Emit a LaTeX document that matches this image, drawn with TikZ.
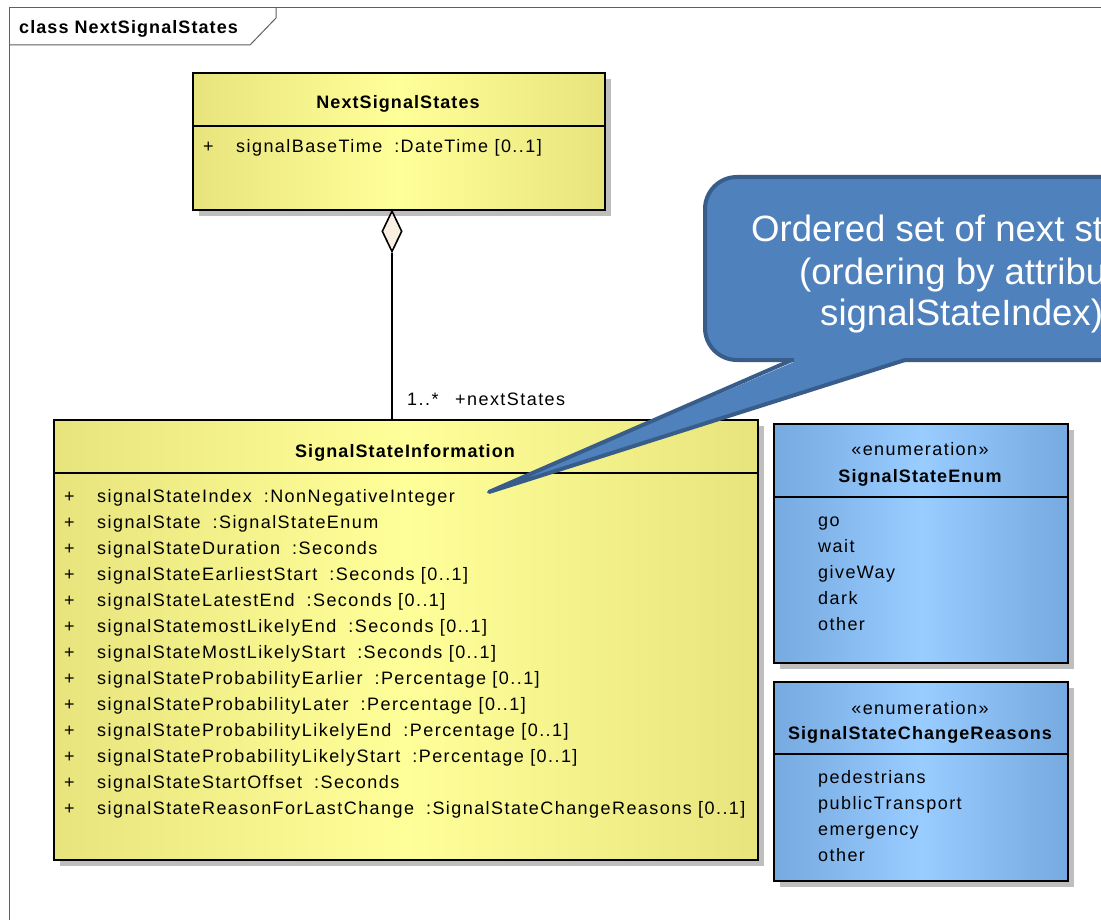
\documentclass[tikz,border=0pt]{standalone}
\usepackage{fontspec}
\setmainfont{Liberation Sans}
\newfontfamily\umlf[LetterSpace=8]{Liberation Sans}
\newfontfamily\umlbf[LetterSpace=6]{Liberation Sans Bold}
\usetikzlibrary{shapes.geometric,shadows}
\definecolor{yedge}{RGB}{232,228,125}
\definecolor{ymid}{RGB}{255,255,153}
\definecolor{bedge}{RGB}{118,170,224}
\definecolor{bmid}{RGB}{153,204,255}
\definecolor{shgray}{RGB}{190,190,190}
\definecolor{frameg}{RGB}{96,96,96}
\definecolor{callfill}{RGB}{79,129,189}
\definecolor{callline}{RGB}{56,93,138}
\definecolor{dfill}{RGB}{250,240,225}
\newcommand\utxt{\umlf\fontsize{18}{20}\selectfont}
\newcommand\ubf{\umlbf\fontsize{18}{20}\selectfont}
\newcommand\gp{\hspace{12pt}}
\begin{document}
\begin{tikzpicture}[x=1pt,y=-1pt,
  umlbox/.style={draw=black, line width=1.6pt, inner sep=0pt, anchor=north west,
    drop shadow={shadow xshift=6pt, shadow yshift=-6pt, fill=shgray, opacity=1}},
  ybox/.style={umlbox, left color=yedge, right color=yedge, middle color=ymid},
  bbox/.style={umlbox, left color=bedge, right color=bedge, middle color=bmid},
  lbl/.style={inner sep=0pt, anchor=base west, font=\utxt},
  ctr/.style={inner sep=0pt, anchor=base, font=\utxt},
  ttl/.style={inner sep=0pt, anchor=base, font=\ubf},
  divl/.style={line width=1.6pt},
  calltxt/.style={inner sep=0pt, anchor=base west, text=white, font=\fontsize{36.6}{42}\selectfont}]
\useasboundingbox (0,0) rectangle (1101,920);
\fill[white] (0,0) rectangle (1101,920);
% frame
\draw[frameg, line width=1pt] (9,930) -- (9,8) -- (1110,8);
\draw[frameg, line width=1pt] (9,45) -- (250,45) -- (276,18) -- (276,8);
\node[inner sep=0pt, anchor=base west, font=\ubf] (title) at (19,34) {class NextSignalStates};
% NextSignalStates
\node[ybox, minimum width=412pt, minimum height=137pt] (nss) at (192,72) {};
\draw[divl] (192,126) -- (604,126);
\node[ttl] (nsst) at (398,109) {NextSignalStates};
\node[lbl] (nsp) at (203,153) {+};
\node[lbl] (nsa) at (236,153) {signalBaseTime\gp:DateTime [0..1]};
% SignalStateInformation
\node[ybox, minimum width=704pt, minimum height=440pt] (ssi) at (53,419) {};
\draw[divl] (53,473) -- (757,473);
\node[ttl] (ssit) at (405,457) {SignalStateInformation};
\foreach \t [count=\i] in {
  {signalStateIndex\gp:NonNegativeInteger},
  {signalState\gp:SignalStateEnum},
  {signalStateDuration\gp:Seconds},
  {signalStateEarliestStart\gp:Seconds [0..1]},
  {signalStateLatestEnd\gp:Seconds [0..1]},
  {signalStatemostLikelyEnd\gp:Seconds [0..1]},
  {signalStateMostLikelyStart\gp:Seconds [0..1]},
  {signalStateProbabilityEarlier\gp:Percentage [0..1]},
  {signalStateProbabilityLater\gp:Percentage [0..1]},
  {signalStateProbabilityLikelyEnd\gp:Percentage [0..1]},
  {signalStateProbabilityLikelyStart\gp:Percentage [0..1]},
  {signalStateStartOffset\gp:Seconds},
  {signalStateReasonForLastChange\gp:SignalStateChangeReasons [0..1]}} {
  \node[lbl] (sp\i) at (64,476+26*\i) {+};
  \node[lbl] (sa\i) at (97,476+26*\i) {\t};
}
% SignalStateEnum
\node[bbox, minimum width=294pt, minimum height=239pt] (sse) at (773,423) {};
\draw[divl] (773,497) -- (1067,497);
\node[ctr] (sses) at (920,455) {«enumeration»};
\node[ttl] (sset) at (920,482) {SignalStateEnum};
\foreach \t [count=\i] in {go,wait,giveWay,dark,other} {
  \node[lbl] (se\i) at (818,500+26*\i) {\t};
}
% SignalStateChangeReasons
\node[bbox, minimum width=294pt, minimum height=199pt] (sscr) at (773,681) {};
\draw[divl] (773,754) -- (1067,754);
\node[ctr] (sscrs) at (920,714) {«enumeration»};
\node[ttl] (sscrt) at (920,739) {SignalStateChangeReasons};
\foreach \t [count=\i] in {pedestrians,publicTransport,emergency,other} {
  \node[lbl] (sr\i) at (818,757+26*\i) {\t};
}
% aggregation
\node[draw=black, line width=1.6pt, fill=dfill, shape=diamond, aspect=0.5,
  minimum width=20pt, minimum height=41pt, inner sep=0pt, anchor=north] (dia) at (392,210) {};
\draw[line width=1.6pt] (dia.south) -- (dia.south |- ssi.north);
\node[lbl] (mult) at (407,405) {1..*};
\node[lbl] (role) at (455,405) {+nextStates};
% callout
\filldraw[fill=callfill, draw=callline, line width=4pt, rounded corners=32pt] (705,177) rectangle (1240,360);
\fill[callfill] (794,350) -- (794,362) -- (489,492) -- (903,362) -- (903,350) -- cycle;
\coordinate (tip) at (489,492);
\coordinate (tl) at (792,360);
\coordinate (tr) at (905,360);
\draw[callline, line width=4pt, line join=round] (tl) -- (tip) -- (tr);
\node[calltxt] (c1) at (751,242) {Ordered set of next states};
\node[calltxt] (c2) at (799,284) {(ordering by attribute};
\node[calltxt] (c3) at (820,326) {signalStateIndex)};
\end{tikzpicture}
\end{document}
